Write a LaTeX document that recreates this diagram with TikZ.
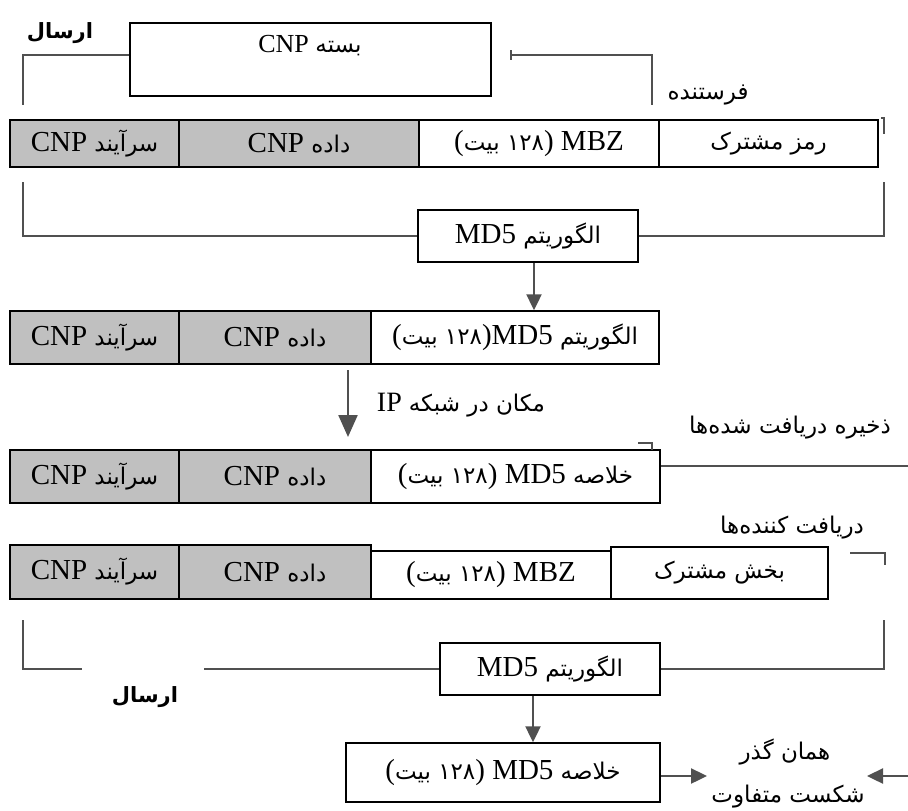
\documentclass[tikz,border=0pt]{standalone}
\usepackage{fontspec}
\setmainfont{Liberation Serif}
\newfontfamily\arabicfont[Script=Arabic]{DejaVu Sans}
\usetikzlibrary{arrows.meta}
\TeXXeTstate=1
\newcommand\fa[1]{{\arabicfont\fontsize{23}{27}\selectfont #1}}
\newcommand\fab[1]{{\arabicfont\bfseries\fontsize{21}{25}\selectfont #1}}
\newcommand\rtl[1]{\beginR #1\endR}
\newcommand\ltr[1]{\beginL #1\endL}
\definecolor{cellgray}{RGB}{192,192,192}
\definecolor{linegray}{RGB}{80,80,80}
\begin{document}
\begin{tikzpicture}[x=1pt,y=-1pt,
 box/.style={draw=black, line width=1.5pt, inner sep=0pt, font=\fontsize{29}{33}\selectfont},
 gcell/.style={box, fill=cellgray},
 conn/.style={draw=linegray, line width=2.4pt},
 arr/.style={conn, -{Triangle[length=16pt,width=15pt]}},
 bigarr/.style={conn, -{Triangle[length=22pt,width=19pt]}},
 lbl/.style={inner sep=0pt, font=\fontsize{28}{32}\selectfont},
]
\useasboundingbox (0,0) rectangle (908,811);

% top packet box
\node[box, minimum width=361pt, minimum height=73pt] (pkt) at (310.5,59.5) {};
\node[lbl, font=\fontsize{26}{30}\selectfont] (pkttext) at (310,46) {\rtl{\fa{بسته} \ltr{CNP}}};
\node[lbl] (send1) at (60,33) {\fab{ارسال}};
\node[lbl] (sender) at (708,95) {\rtl{\fa{فرستنده}}};

% row 1
\node[gcell, minimum width=169pt, minimum height=47pt] (a1) at (94.5,143.5) {\rtl{\fa{سرآیند} \ltr{CNP}}};
\node[gcell, minimum width=240pt, minimum height=47pt] (b1) at (299,143.5) {\rtl{\fa{داده} \ltr{CNP}}};
\node[box, minimum width=240pt, minimum height=47pt] (c1) at (539,143.5) {(\fa{بیت} \fa{۱۲۸}) MBZ};
\node[box, minimum width=219pt, minimum height=47pt] (d1) at (768.5,143.5) {\rtl{\fa{رمز مشترک}}};

% top connectors
\coordinate (tl) at (23,105);
\coordinate (tr0) at (511,55);
\coordinate (tr) at (652,105);
\draw[conn] ([yshift=4.5pt]pkt.west) -| (tl);
\draw[conn] (511,50) -- (511,60);
\draw[conn] (tr0) -| (tr);
\draw[conn] (881,118) -- (884,118) -- (884,134);

% MD5 box 1
\node[box, minimum width=220pt, minimum height=52pt] (md1) at (528,236) {\rtl{\fa{الگوریتم} \ltr{MD5}}};
\coordinate (l1) at (23,182);
\coordinate (r1) at (884,182);
\draw[conn] (l1) |- (md1.west);
\draw[conn] (r1) |- (md1.east);

% row 2
\node[gcell, minimum width=169pt, minimum height=53pt] (a2) at (94.5,337.5) {\rtl{\fa{سرآیند} \ltr{CNP}}};
\node[gcell, minimum width=192pt, minimum height=53pt] (b2) at (275,337.5) {\rtl{\fa{داده} \ltr{CNP}}};
\node[box, minimum width=288pt, minimum height=53pt] (c2) at (515,337.5) {(\fa{بیت} \fa{۱۲۸})MD5 \fa{الگوریتم}};
\draw[arr] ([xshift=6pt]md1.south) -- ([xshift=6pt]md1.south |- c2.north);

% IP arrow
\coordinate (ipa) at (348,370);
\coordinate (ipb) at (348,437);
\draw[bigarr] (ipa) -- (ipb);
\node[lbl] (iplbl) at (461,405) {\rtl{\fa{مکان در شبکه} \ltr{IP}}};

% row 3
\node[gcell, minimum width=169pt, minimum height=53pt] (a3) at (94.5,476.5) {\rtl{\fa{سرآیند} \ltr{CNP}}};
\node[gcell, minimum width=192pt, minimum height=53pt] (b3) at (275,476.5) {\rtl{\fa{داده} \ltr{CNP}}};
\node[box, minimum width=289pt, minimum height=53pt] (c3) at (515.5,476.5) {(\fa{بیت} \fa{۱۲۸}) MD5 \fa{خلاصه}};
\node[lbl] (store) at (790,428) {\rtl{\fa{ذخیره دریافت شده‌ها}}};
\coordinate (st) at (908,466);
\draw[conn] ([yshift=10.5pt]c3.east) -- (st);
\draw[conn] (638,443) -- (652,443) -- (652,450);

% row 4
\node[lbl] (recv) at (792,528) {\rtl{\fa{دریافت کننده‌ها}}};
\node[gcell, minimum width=169pt, minimum height=54pt] (a4) at (94.5,572) {\rtl{\fa{سرآیند} \ltr{CNP}}};
\node[gcell, minimum width=192pt, minimum height=54pt] (b4) at (275,572) {\rtl{\fa{داده} \ltr{CNP}}};
\node[box, minimum width=240pt, minimum height=48pt] (c4) at (491,575) {(\fa{بیت} \fa{۱۲۸}) MBZ};
\node[box, minimum width=217pt, minimum height=52pt] (d4) at (719.5,573) {\rtl{\fa{بخش مشترک}}};
\draw[conn] (850,553) -- (885,553) -- (885,565);

% MD5 box 2
\node[box, minimum width=220pt, minimum height=52pt] (md2) at (550,669) {\rtl{\fa{الگوریتم} \ltr{MD5}}};
\coordinate (l2) at (23,620);
\coordinate (l2g) at (82,669);
\coordinate (l2h) at (204,669);
\coordinate (r2) at (884,620);
\draw[conn] (l2) |- (l2g);
\draw[conn] (l2h) -- (md2.west);
\draw[conn] (r2) |- (md2.east);
\node[lbl] (send2) at (145,697) {\fab{ارسال}};

% result box
\node[box, minimum width=314pt, minimum height=59pt] (res) at (503,772.5) {(\fa{بیت} \fa{۱۲۸}) MD5 \fa{خلاصه}};
\draw[arr] ([xshift=-17pt]md2.south) -- ([xshift=-17pt]md2.south |- res.north);
\coordinate (cmpL) at (707,776);
\coordinate (cmpR0) at (908,776);
\coordinate (cmpR) at (867,776);
\draw[arr] ([yshift=-3.5pt]res.east) -- (cmpL);
\draw[arr] (cmpR0) -- (cmpR);
\node[lbl] (same) at (785,752) {\rtl{\fa{همان گذر}}};
\node[lbl] (diff) at (788,797) {\rtl{\fa{شکست متفاوت}}};
\end{tikzpicture}
\end{document}
